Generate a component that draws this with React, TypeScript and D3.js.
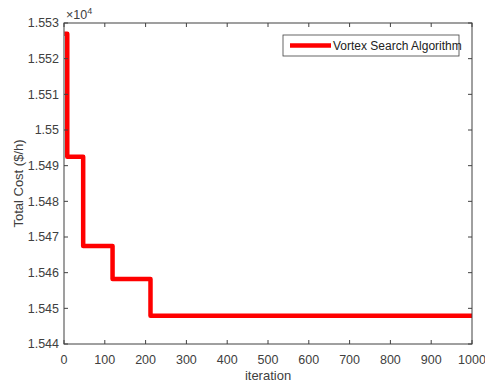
import React from 'react';
import * as d3 from 'd3';

// step levels of the convergence curve (iteration, cost)
const iterations = [1, 8, 8, 47, 47, 119, 119, 212, 212, 1000];
const costs = [15527, 15527, 15492.5, 15492.5, 15467.5, 15467.5, 15458.2, 15458.2, 15447.9, 15447.9];
const xTicks = [0, 100, 200, 300, 400, 500, 600, 700, 800, 900, 1000];
const yTicks = [15440, 15450, 15460, 15470, 15480, 15490, 15500, 15510, 15520, 15530];
const yTickLabels = ['1.544', '1.545', '1.546', '1.547', '1.548', '1.549', '1.55', '1.551', '1.552', '1.553'];
const seriesName = 'Vortex Search Algorithm';

const W = 485;
const H = 384;
const m = { left: 64, right: 13, top: 23, bottom: 40 };
const axisColor = '#404040';
const font = 'Liberation Sans, Arial, sans-serif';

const App = () => {
  const x = d3.scaleLinear().domain([0, 1000]).range([m.left, W - m.right]);
  const y = d3.scaleLinear().domain([15440, 15530]).range([H - m.bottom, m.top]);

  const pts = iterations.map((it, i) => [it, costs[i]] as [number, number]);
  const line = d3.line<[number, number]>()
    .x((d) => x(d[0]))
    .y((d) => y(d[1]));

  const x0 = m.left;
  const x1 = W - m.right;
  const y0 = H - m.bottom;
  const y1 = m.top;
  const tick = 4;

  return (
    <svg width={W} height={H} style={{ position: 'absolute', left: 0, top: 0, background: '#fff' }}>
      <rect x={0} y={0} width={W} height={H} fill="#fff" />
      <path d={line(pts) ?? ''} fill="none" stroke="#ff0000" strokeWidth={4.5} strokeLinejoin="round" />
      <rect x={x0} y={y1} width={x1 - x0} height={y0 - y1} fill="none" stroke={axisColor} strokeWidth={1} />
      {xTicks.map((t) => (
        <g key={'x' + t}>
          <line x1={x(t)} x2={x(t)} y1={y0} y2={y0 - tick} stroke={axisColor} />
          <line x1={x(t)} x2={x(t)} y1={y1} y2={y1 + tick} stroke={axisColor} />
          <text x={x(t)} y={y0 + 20} textAnchor="middle" fontSize={12.5} fontFamily={font} fill={axisColor}>
            {t}
          </text>
        </g>
      ))}
      {yTicks.map((t, i) => (
        <g key={'y' + t}>
          <line x1={x0} x2={x0 + tick} y1={y(t)} y2={y(t)} stroke={axisColor} />
          <line x1={x1} x2={x1 - tick} y1={y(t)} y2={y(t)} stroke={axisColor} />
          <text x={x0 - 5} y={y(t)} dy="0.35em" textAnchor="end" fontSize={12.5} fontFamily={font} fill={axisColor}>
            {yTickLabels[i]}
          </text>
        </g>
      ))}
      <text x={x0 + 2} y={y1 - 4} fontSize={12.5} fontFamily={font} fill={axisColor}>
        ×10<tspan dy={-5} fontSize={9}>4</tspan>
      </text>
      <text x={(x0 + x1) / 2} y={H - 4} textAnchor="middle" fontSize={13} fontFamily={font} fill={axisColor}>
        iteration
      </text>
      <text
        transform={`translate(23, ${(y0 + y1) / 2}) rotate(-90)`}
        textAnchor="middle"
        fontSize={13}
        fontFamily={font}
        fill={axisColor}
      >
        Total Cost ($/h)
      </text>
      <g>
        <rect x={283} y={35} width={176} height={21} fill="#fff" stroke={axisColor} strokeWidth={0.8} />
        <line x1={290} x2={331} y1={45.5} y2={45.5} stroke="#ff0000" strokeWidth={4.5} />
        <text x={333} y={45.5} dy="0.35em" fontSize={12} fontFamily={font} fill="#222">
          {seriesName}
        </text>
      </g>
    </svg>
  );
};

export default App;
